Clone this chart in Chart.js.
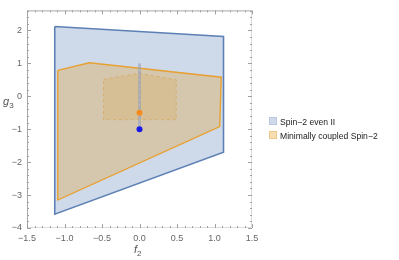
<!DOCTYPE html>
<html>
<head>
<meta charset="utf-8">
<script src="https://cdn.jsdelivr.net/npm/chart.js@4/dist/chart.umd.min.js"></script>
<style>
  body { margin: 0; background: #fff; }
  #wrap { position: relative; width: 399px; height: 260px; font-family: "Liberation Sans", Arial, sans-serif; }
  .axis-title { position: absolute; color: #555; font-size: 11px; font-style: italic; }
  .axis-title sub { font-size: 8px; font-style: normal; }
  #legend { position: absolute; left: 269px; top: 115px; font-size: 8.6px; color: #222; }
  #legend div { height: 14px; line-height: 14px; white-space: nowrap; }
  #legend span.sw { display: inline-block; width: 6px; height: 6px; margin-right: 3px; vertical-align: 0px; border: 1px solid; }
</style>
</head>
<body>
<div id="wrap">
  <canvas id="chart"></canvas>
  <div class="axis-title" style="left:134px; top:243px;">f<sub>2</sub></div>
  <div class="axis-title" style="left:3px; top:95px;">g<sub>3</sub></div>
  <div id="legend">
    <div><span class="sw" style="background:#cfd9e9; border-color:#b9c8df;"></span>Spin−2 even II</div>
    <div><span class="sw" style="background:#f6deb4; border-color:#eec887;"></span>Minimally coupled Spin−2</div>
  </div>
</div>
<script>
// Spin-2 even II region (outer blue polygon)
const evenX = [-1.13, 1.12, 1.12, -1.13, -1.13];
const evenY = [2.12, 1.82, -1.70, -3.58, 2.12];

// Minimally coupled Spin-2 region (orange polygon)
const minX = [-1.09, -0.67, 1.09, 1.07, -1.09, -1.09];
const minY = [0.79, 1.02, 0.58, -0.92, -3.15, 0.79];

// inner dashed region
const innerX = [-0.48, 0, 0.49, 0.49, -0.48, -0.48];
const innerY = [0.52, 0.70, 0.50, -0.71, -0.71, 0.52];

// vertical segment and points
const segX = [0, 0];
const segY = [1.0, -1.0];
const orangePt = [0, -0.5];
const bluePt = [0, -1];

// tick labels
const xTicks = [-1.5, -1.0, -0.5, 0.0, 0.5, 1.0, 1.5];
const yTicks = [-4, -3, -2, -1, 0, 1, 2];

const pts = (xs, ys) => xs.map((x, i) => ({ x: x, y: ys[i] }));
const fmt = (v, d) => v.toFixed(d).replace("-", "\u2212");

// frame with inward ticks, Mathematica style
const framePlugin = {
  id: "frame",
  afterDatasetsDraw(chart) {
    const { ctx, chartArea: a, scales } = chart;
    ctx.save();
    ctx.lineWidth = 1;
    ctx.strokeStyle = "#a8a8a8";
    ctx.beginPath();
    ctx.moveTo(a.left + 0.5, a.bottom); ctx.lineTo(a.left + 0.5, a.top + 0.5);
    ctx.lineTo(a.right, a.top + 0.5);
    ctx.stroke();
    ctx.strokeStyle = "#dcdcdc";
    ctx.beginPath();
    ctx.moveTo(a.left, a.bottom - 0.5); ctx.lineTo(a.right - 0.5, a.bottom - 0.5);
    ctx.lineTo(a.right - 0.5, a.top);
    ctx.stroke();
    ctx.strokeStyle = "#a0a0a0";
    ctx.beginPath();
    for (let i = -15; i <= 15; i++) {
      const px = Math.round(scales.x.getPixelForValue(i / 10)) + 0.5;
      const len = i % 5 === 0 ? 4 : 2;
      ctx.moveTo(px, a.bottom); ctx.lineTo(px, a.bottom - len);
      ctx.moveTo(px, a.top); ctx.lineTo(px, a.top + len);
    }
    for (let i = -20; i <= 13; i++) {
      const py = Math.round(scales.y.getPixelForValue(i / 5)) + 0.5;
      const len = i % 5 === 0 ? 4 : 2;
      ctx.moveTo(a.left, py); ctx.lineTo(a.left + len, py);
      ctx.moveTo(a.right, py); ctx.lineTo(a.right - len, py);
    }
    ctx.stroke();
    ctx.restore();
  }
};

new Chart(document.getElementById("chart").getContext("2d"), {
  type: "scatter",
  data: {
    datasets: [
      {
        label: "Spin-2 even II",
        data: pts(evenX, evenY),
        showLine: true,
        fill: "shape",
        backgroundColor: "rgba(94,129,181,0.3)",
        borderColor: "#5e81b5",
        borderWidth: 1.6,
        pointRadius: 0,
        order: 7,
      },
      {
        label: "Minimally coupled Spin-2",
        data: pts(minX, minY),
        showLine: true,
        fill: "shape",
        backgroundColor: "rgba(225,156,36,0.3)",
        borderColor: "#e8a030",
        borderWidth: 1.4,
        pointRadius: 0,
        order: 6,
      },
      {
        label: "inner",
        data: pts(innerX, innerY),
        showLine: true,
        fill: "shape",
        backgroundColor: "rgba(225,156,36,0.18)",
        borderColor: "rgba(215,160,80,0.6)",
        borderWidth: 1,
        borderDash: [3, 3],
        pointRadius: 0,
        order: 5,
      },
      {
        label: "segment",
        data: pts(segX, segY),
        showLine: true,
        borderColor: "rgba(130,150,190,0.6)",
        borderWidth: 2.5,
        pointRadius: 0,
        order: 4,
      },
      {
        label: "segment dashes",
        data: pts(segX, segY),
        showLine: true,
        borderColor: "rgba(185,185,185,0.9)",
        borderWidth: 1,
        borderDash: [3, 2],
        pointRadius: 0,
        order: 3,
      },
      {
        label: "orange point",
        data: [{ x: orangePt[0], y: orangePt[1] }],
        backgroundColor: "#f58a1f",
        borderWidth: 0,
        pointRadius: 3,
        order: 2,
      },
      {
        label: "blue point",
        data: [{ x: bluePt[0], y: bluePt[1] }],
        backgroundColor: "#1a1ae6",
        borderWidth: 0,
        pointRadius: 3,
        order: 1,
      },
    ],
  },
  options: {
    responsive: true,
    maintainAspectRatio: false,
    animation: false,
    layout: { padding: { top: 2, right: 147, bottom: 0, left: 0 } },
    plugins: { legend: { display: false }, tooltip: { enabled: false } },
    scales: {
      x: {
        type: "linear",
        min: -1.5,
        max: 1.5,
        afterBuildTicks: (s) => { s.ticks = xTicks.map((v) => ({ value: v })); },
        afterFit: (s) => { s.height = 32; },
        grid: { display: false, drawTicks: false },
        border: { display: false },
        ticks: {
          callback: (v) => fmt(v, 1),
          color: "#666",
          font: { size: 9, family: "Liberation Sans" },
          padding: 5,
          maxRotation: 0,
        },
      },
      y: {
        type: "linear",
        min: -4,
        max: 2.61,
        afterBuildTicks: (s) => { s.ticks = yTicks.map((v) => ({ value: v })); },
        afterFit: (s) => { s.width = 27; },
        grid: { display: false, drawTicks: false },
        border: { display: false },
        ticks: {
          callback: (v) => fmt(v, 0),
          color: "#666",
          font: { size: 9, family: "Liberation Sans" },
          padding: 5,
        },
      },
    },
  },
  plugins: [framePlugin],
});
</script>
</body>
</html>
